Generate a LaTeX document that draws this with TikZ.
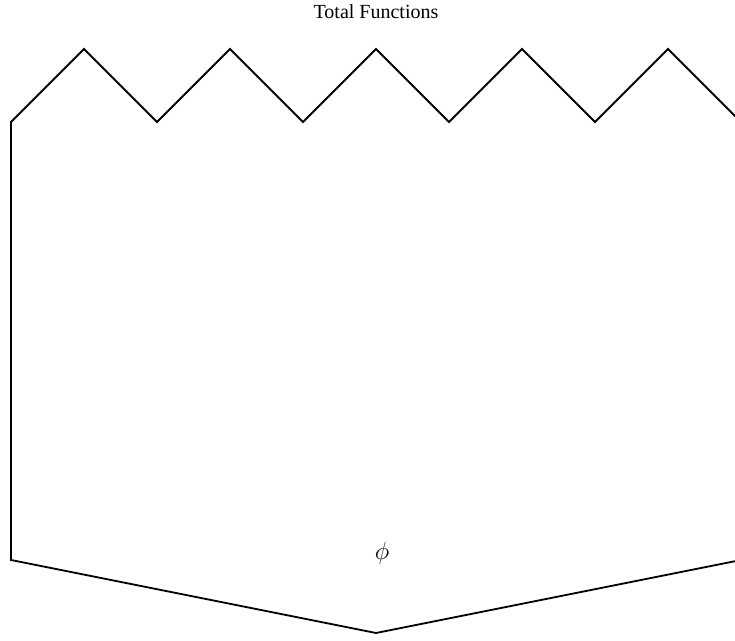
\documentclass[tikz,border=0pt]{standalone}
\usepackage{fontspec}
\setmainfont{Liberation Serif}
\begin{document}
\begin{tikzpicture}[x=1pt,y=-1pt]
  % picture frame (pixel units)
  \useasboundingbox (0,0) rectangle (735,640);

  % shape parameters
  \def\lft{11}    % left side
  \def\rgt{741}   % right side
  \def\mid{376}   % centre
  \def\top{49}    % tooth peaks
  \def\shoulder{122} % tooth valleys
  \def\base{560}  % bottom corners
  \def\tip{633}   % bottom point

  % 1. outline: zigzag top, straight sides, pointed bottom
  \draw[line width=1.8pt]
    (\lft,\shoulder)
    \foreach \k in {0,...,4} {
      -- ({\lft+73+146*\k},\top) -- ({\lft+146+146*\k},\shoulder)
    }
    -- (\rgt,\base) -- (\mid,\tip) -- (\lft,\base) -- cycle;

  % 2. labels
  \node[font=\fontsize{20}{24}\selectfont] (title) at (\mid,12) {Total Functions};
  \node[font=\fontsize{24}{28}\selectfont] (phi) at (382,553) {$\phi$};
\end{tikzpicture}
\end{document}
